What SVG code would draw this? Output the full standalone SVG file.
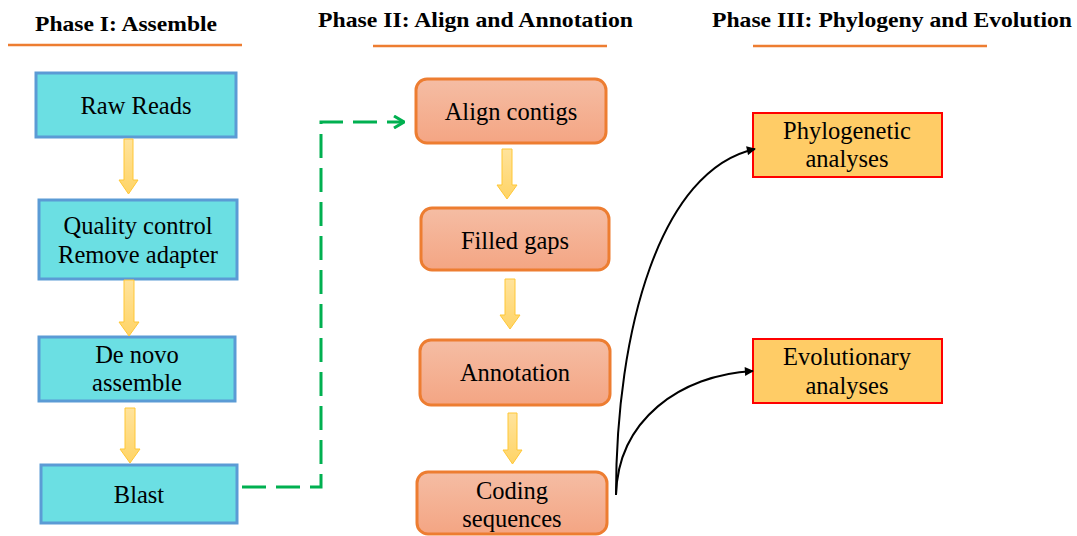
<svg xmlns="http://www.w3.org/2000/svg" width="1077" height="536" viewBox="0 0 1077 536">
<defs>
<linearGradient id="gOr" x1="0" y1="0" x2="0" y2="1"><stop offset="0" stop-color="#F5BDA4"/><stop offset="1" stop-color="#F4A583"/></linearGradient>
<linearGradient id="gYe" x1="0" y1="0" x2="0" y2="1"><stop offset="0" stop-color="#FFE39C"/><stop offset="1" stop-color="#FFD466"/></linearGradient>
<marker id="mBlk" viewBox="0 0 10 10" refX="9" refY="5" markerWidth="10" markerHeight="9" markerUnits="userSpaceOnUse" orient="auto"><path d="M0,0 L10,5 L0,10 Z" fill="#000"/></marker>
<marker id="mGrn" viewBox="0 0 12 14" refX="11" refY="7" markerWidth="12" markerHeight="14" markerUnits="userSpaceOnUse" orient="auto"><path d="M1,1 L11,7 L1,13" fill="none" stroke="#00B050" stroke-width="3"/></marker>
</defs>
<style>
text{font-family:"Liberation Serif","Times New Roman",serif;fill:#000;text-anchor:middle}
.hd{font-weight:bold;font-size:21px}
.ul{stroke:#ED7D31;stroke-width:2.5}
.nt{font-size:24.5px;font-weight:normal}
.cy{fill:#6BDFE3;stroke:#5B9BD5;stroke-width:3}
.or{fill:url(#gOr);stroke:#ED7D31;stroke-width:3}
.ye{fill:#FFCC66;stroke:#FF0000;stroke-width:2}
.ba{fill:url(#gYe);stroke:#FFC736;stroke-width:1}
.cv{fill:none;stroke:#000;stroke-width:2}
.gd{fill:none;stroke:#00B050;stroke-width:3;stroke-dasharray:24 10}
</style>
<g id="headers">
<text class="hd" x="126" y="31" textLength="182" lengthAdjust="spacingAndGlyphs">Phase I: Assemble</text>
<line class="ul" x1="8" y1="45" x2="242" y2="45"/>
<text class="hd" x="475.5" y="27" textLength="315" lengthAdjust="spacingAndGlyphs">Phase II: Align and Annotation</text>
<line class="ul" x1="373" y1="46" x2="607" y2="46"/>
<text class="hd" x="892" y="27" textLength="360" lengthAdjust="spacingAndGlyphs">Phase III: Phylogeny and Evolution</text>
<line class="ul" x1="753" y1="46" x2="987" y2="46"/>
</g>
<g id="raw-reads"><rect class="cy" x="36" y="73" width="200" height="64"/><text class="nt" x="136" y="114">Raw Reads</text></g>
<g id="quality-control"><rect class="cy" x="39" y="200" width="198" height="79"/><text class="nt" x="138" y="234">Quality control</text><text class="nt" x="138" y="263">Remove adapter</text></g>
<g id="de-novo"><rect class="cy" x="39" y="337" width="196" height="64"/><text class="nt" x="137" y="363">De novo</text><text class="nt" x="137" y="391">assemble</text></g>
<g id="blast"><rect class="cy" x="41" y="465" width="196" height="58"/><text class="nt" x="139" y="503">Blast</text></g>
<g id="align-contigs"><rect class="or" x="416" y="79" width="190" height="64" rx="11"/><text class="nt" x="511" y="120">Align contigs</text></g>
<g id="filled-gaps"><rect class="or" x="421" y="208" width="188" height="62" rx="11"/><text class="nt" x="515" y="249">Filled gaps</text></g>
<g id="annotation"><rect class="or" x="420" y="340" width="190" height="65" rx="11"/><text class="nt" x="515" y="381">Annotation</text></g>
<g id="coding-sequences"><rect class="or" x="417" y="472" width="190" height="62" rx="11"/><text class="nt" x="512" y="499">Coding</text><text class="nt" x="512" y="527">sequences</text></g>
<g id="phylogenetic"><rect class="ye" x="753" y="113" width="189" height="64"/><text class="nt" x="847" y="139">Phylogenetic</text><text class="nt" x="847" y="167">analyses</text></g>
<g id="evolutionary"><rect class="ye" x="753" y="339" width="189" height="64"/><text class="nt" x="847" y="365">Evolutionary</text><text class="nt" x="847" y="394">analyses</text></g>
<g id="connectors">
<path class="ba" d="M124,139 H133 V180 H138 L128.5,194 L119,180 H124 Z"/>
<path class="ba" d="M124,280 H134 V322 H139 L129,336 L119,322 H124 Z"/>
<path class="ba" d="M125,408 H135 V449 H140 L130,463 L120,449 H125 Z"/>
<path class="ba" d="M502,149 H512 V185 H517 L507,199 L497,185 H502 Z"/>
<path class="ba" d="M505,279 H515 V315 H520 L510,329 L500,315 H505 Z"/>
<path class="ba" d="M508,413 H517 V450 H522 L512.5,464 L503,450 H508 Z"/>
<path class="gd" d="M242,487 H321 V122 H404" marker-end="url(#mGrn)"/>
<path class="cv" d="M616,495 C616,330 660,170 755,149" marker-end="url(#mBlk)"/>
<path class="cv" d="M616,495 C618,420 680,375 753,371" marker-end="url(#mBlk)"/>
</g>
</svg>
